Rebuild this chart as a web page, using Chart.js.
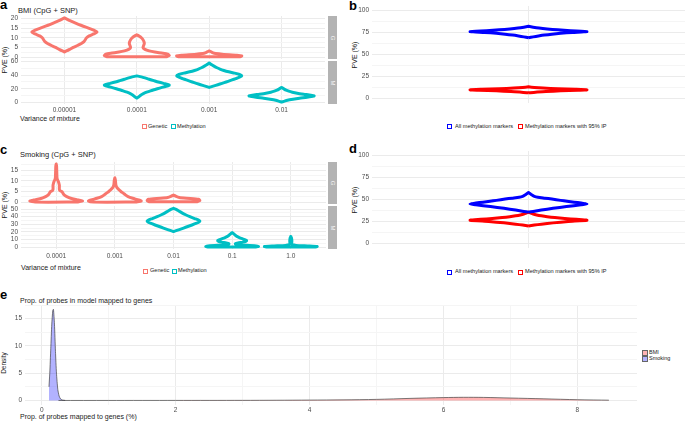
<!DOCTYPE html>
<html>
<head>
<meta charset="utf-8">
<script src="https://cdn.jsdelivr.net/npm/chart.js@4.4.0/dist/chart.umd.min.js"></script>
<style>
  body { margin: 0; width: 685px; height: 424px; position: relative; overflow: hidden; background: #fff;
         font-family: "Liberation Sans", Arial, sans-serif; }
  .t { position: absolute; white-space: nowrap; line-height: 1; color: #1a1a1a; transform: translateY(-50%); }
  .letter { position: absolute; font-weight: bold; font-size: 13px; line-height: 1; color: #000; }
  .rot { position: absolute; white-space: nowrap; line-height: 1; font-size: 7px; color: #1a1a1a;
         transform: translate(-50%, -50%) rotate(-90deg); }
  .strip { position: absolute; background: #b3b3b3; }
  .strip span { position: absolute; left: 50%; top: 50%; font-size: 6px; line-height: 1; color: #f2f2f2;
                transform: translate(-50%, -50%) rotate(90deg); }
  .key { position: absolute; width: 3px; height: 3px; border: 1px solid; background: #fff; }
  .lg { font-size: 5.6px; }
  canvas { position: absolute; }
</style>
</head>
<body>

<div class="letter" style="left:0px;top:-2px">a</div>
<div class="letter" style="left:349px;top:-1px">b</div>
<div class="letter" style="left:0px;top:143px">c</div>
<div class="letter" style="left:349px;top:142px">d</div>
<div class="letter" style="left:0px;top:288px">e</div>

<div class="t" style="left:18px;top:11px;font-size:7.5px">BMI (CpG + SNP)</div>
<div class="t" style="left:20px;top:155px;font-size:7.5px">Smoking (CpG + SNP)</div>
<div class="t" style="left:20px;top:300px;font-size:7px">Prop. of probes in model mapped to genes</div>

<div class="t" style="left:20px;top:118px;font-size:7px">Variance of mixture</div>
<div class="t" style="left:21px;top:267px;font-size:7px">Variance of mixture</div>
<div class="t" style="left:20px;top:416px;font-size:7px">Prop. of probes mapped to genes (%)</div>

<div class="rot" style="left:4px;top:60px">PVE (%)</div>
<div class="rot" style="left:4px;top:205px">PVE (%)</div>
<div class="rot" style="left:354px;top:55px">PVE (%)</div>
<div class="rot" style="left:354px;top:200px">PVE (%)</div>
<div class="rot" style="left:4px;top:363px;font-size:6.5px">Density</div>

<div class="strip" style="left:328px;top:16px;width:9px;height:43px"><span>G</span></div>
<div class="strip" style="left:328px;top:61px;width:9px;height:43px"><span>M</span></div>
<div class="strip" style="left:328px;top:162px;width:9px;height:42px"><span>G</span></div>
<div class="strip" style="left:328px;top:206px;width:9px;height:43px"><span>M</span></div>

<div class="key" style="left:142px;top:124px;border-color:#F8766D"></div>
<div class="t lg" style="left:148px;top:126.5px">Genetic</div>
<div class="key" style="left:171px;top:124px;border-color:#00BFC4"></div>
<div class="t lg" style="left:177px;top:126.5px">Methylation</div>

<div class="key" style="left:143px;top:269px;border-color:#F8766D"></div>
<div class="t lg" style="left:150px;top:271px">Genetic</div>
<div class="key" style="left:172px;top:269px;border-color:#00BFC4"></div>
<div class="t lg" style="left:178px;top:271px">Methylation</div>

<div class="key" style="left:447px;top:124px;border-color:#0000FF"></div>
<div class="t lg" style="left:455px;top:126.5px">All methylation markers</div>
<div class="key" style="left:518px;top:124px;border-color:#FF0000"></div>
<div class="t lg" style="left:525px;top:126.5px">Methylation markers with 95% IP</div>

<div class="key" style="left:447px;top:269.5px;border-color:#0000FF"></div>
<div class="t lg" style="left:455px;top:271.5px">All methylation markers</div>
<div class="key" style="left:518px;top:269.5px;border-color:#FF0000"></div>
<div class="t lg" style="left:525px;top:271.5px">Methylation markers with 95% IP</div>

<div class="key" style="left:642px;top:350px;width:4px;height:4px;border:0.5px solid #666;background:rgba(255,0,0,0.3)"></div>
<div class="t" style="left:649px;top:352.5px;font-size:5.5px">BMI</div>
<div class="key" style="left:642px;top:355.5px;width:4px;height:4px;border:0.5px solid #666;background:rgba(0,0,255,0.3)"></div>
<div class="t" style="left:649px;top:358.5px;font-size:5.5px">Smoking</div>

<script>
// ---- data ----
const bmiMixture = ['0.00001', '0.0001', '0.001', '0.01'];
const smokingMixture = ['0.0001', '0.001', '0.01', '0.1', '1.0'];

// violin outlines: [PVE (%), relative half width], one per mixture variance (null = none)
const bmiGenetic = [
  [[2.7,0],[3.3,0.08],[4,0.16],[5,0.27],[6,0.4],[7,0.52],[8,0.6],[9,0.64],[10,0.68],[11,0.76],[12,0.9],[13,1],[14,0.9],[15,0.74],[16,0.58],[17,0.43],[18,0.29],[19,0.15],[19.8,0.06],[20.3,0]],
  [[0.2,0.92],[0.8,1],[1.5,0.95],[2,0.8],[2.6,0.55],[3.2,0.38],[4,0.25],[5,0.19],[6,0.21],[7,0.23],[8,0.22],[9,0.19],[10,0.14],[10.8,0.08],[11.6,0]],
  [[0.2,0.95],[0.6,1],[1,0.85],[1.4,0.45],[1.8,0.2],[2.3,0.1],[2.8,0.05],[3.2,0]]
];
const bmiMethylation = [
  null,
  [[6.5,0],[7.5,0.04],[9,0.08],[11,0.13],[13,0.2],[15,0.3],[17,0.42],[19,0.56],[21,0.7],[23,0.85],[24.5,0.96],[25.5,1],[26.5,0.95],[28,0.82],[30,0.66],[32,0.52],[34,0.38],[36,0.25],[37.5,0.14],[39,0]],
  [[22,0],[23.5,0.1],[25,0.2],[27,0.33],[29,0.46],[31,0.58],[33,0.7],[35,0.82],[37,0.93],[39,1],[41,0.93],[43,0.78],[45,0.6],[47,0.45],[49,0.33],[51,0.24],[53,0.16],[55,0.09],[56.5,0.04],[58,0]],
  [[0.5,0],[1.5,0.07],[3,0.18],[4.5,0.35],[6,0.55],[7.5,0.78],[9,0.96],[9.5,1],[10.5,0.9],[12,0.68],[13.5,0.48],[15,0.33],[16.5,0.22],[18,0.14],[19.5,0.08],[21,0.03],[22,0]]
];
const smokingGenetic = [
  [[0,0.8],[0.5,1],[1,0.85],[1.8,0.55],[2.6,0.4],[3.4,0.3],[4.1,0.26],[4.9,0.22],[5.4,0.14],[6,0.12],[7,0.12],[8,0.12],[9,0.1],[9.8,0.08],[10.5,0.05],[11.5,0.03],[13,0.025],[15,0.02],[17,0.015],[18,0]],
  [[0,0.8],[0.5,1],[1,0.9],[1.8,0.68],[2.6,0.5],[3.4,0.4],[4.1,0.33],[5,0.23],[5.7,0.17],[6.5,0.1],[7.3,0.06],[8,0.04],[9,0.03],[10,0.025],[11,0.01],[11.4,0]],
  [[0.2,0.9],[0.7,1],[1.3,0.95],[1.8,0.5],[2.2,0.22],[2.7,0.1],[3.3,0]]
];
const smokingMethylation = [
  null, null,
  [[20.4,0],[21.5,0.1],[23,0.22],[25,0.38],[27,0.54],[29,0.7],[31,0.85],[33,0.97],[34,1],[35.5,0.95],[37.5,0.8],[40,0.62],[42.5,0.46],[45,0.32],[47.5,0.2],[49.5,0.1],[51,0]],
  [[0,0.9],[0.8,1],[1.8,0.85],[2.8,0.3],[3.6,0.14],[4.5,0.12],[5.5,0.22],[6.5,0.4],[7.5,0.52],[8.5,0.55],[9.5,0.5],[11,0.38],[12.5,0.27],[14,0.18],[15.5,0.12],[17,0.07],[18.2,0.03],[19.1,0]],
  [[0,0.9],[0.7,1],[1.4,0.7],[2.2,0.2],[3,0.07],[4,0.04],[6,0.035],[8,0.04],[10,0.035],[12,0.025],[13.9,0]]
];

// panels b and d: a single violin per marker set
const bmiAllMarkers = [[69,0],[70,0.08],[71,0.17],[72,0.27],[73,0.4],[74,0.55],[75,0.75],[76,1],[77,0.72],[78,0.5],[79,0.32],[80,0.18],[81,0.08],[82,0]];
const bmiIpMarkers = [[6.5,0],[7.3,0.12],[8,0.3],[8.8,0.55],[9.5,0.85],[9.9,1],[10.5,0.8],[11.2,0.5],[12,0.25],[12.7,0.1],[13.3,0]];
const smokingAllMarkers = [[35.7,0],[36.5,0.08],[38,0.22],[40,0.42],[42,0.65],[44,0.9],[45,1],[46,0.9],[47,0.78],[48,0.66],[49,0.55],[50.5,0.4],[51.5,0.28],[52.5,0.16],[53.5,0.1],[55,0.06],[56.5,0.03],[58,0]];
const smokingIpMarkers = [[20,0],[21,0.1],[22,0.22],[23.5,0.42],[25,0.68],[26.5,1],[27.5,0.82],[28.5,0.62],[29.5,0.45],[30.5,0.32],[31.5,0.22],[32.5,0.14],[33.5,0.08],[34.5,0.04],[35.7,0]];

// panel e densities
const smokingGeneX = [0.108,0.12,0.135,0.15,0.165,0.175,0.19,0.205,0.22,0.24,0.26,0.28,0.31,0.35];
const smokingGeneDensity = [2.5,5,9.5,14,16.5,16.7,14,9,5,2,0.8,0.3,0.08,0.01];
const bmiGeneX = [0.25,1,2,3,3.5,4,4.5,5,5.5,6,6.3,6.6,7,7.5,8,8.47];
const bmiGeneDensity = [0,0.005,0.01,0.02,0.04,0.07,0.11,0.2,0.38,0.53,0.58,0.56,0.45,0.3,0.14,0.05];

// ---- drawing ----
const FONT = '"Liberation Sans", Arial, sans-serif';
const AX = 34, PT = 8, PR = 4;
const RED = '#F8766D', CYAN = '#00BFC4';

function violin(center, profile, half) {
  const right = profile.map(([y, w]) => ({x: center + w * half, y: y}));
  const left = profile.slice().reverse().map(([y, w]) => ({x: center - w * half, y: y}));
  return right.concat(left, [right[0]]);
}

function violinSet(profiles, color, half) {
  const out = [];
  profiles.forEach((prof, i) => {
    if (!prof) return;
    out.push({
      data: violin(i, prof, half), showLine: true, fill: false,
      borderColor: color, borderWidth: 3, pointRadius: 0, tension: 0.2,
      borderJoinStyle: 'round', borderCapStyle: 'round'
    });
  });
  return out;
}

function gridOpts(isMajor) {
  return {
    drawTicks: false,
    color: c => (c.tick && !isMajor(c.tick.value)) ? '#F5F5F5' : '#EBEBEB',
    lineWidth: 1
  };
}

function plotPanel(p) {
  const cv = document.createElement('canvas');
  const W = Math.round(p.w) + AX + PR, H = Math.round(p.h) + PT + p.xh;
  cv.width = W; cv.height = H;
  cv.style.left = (Math.round(p.x) - AX) + 'px';
  cv.style.top = (Math.round(p.y) - PT) + 'px';
  document.body.appendChild(cv);
  new Chart(cv, {
    type: 'scatter',
    data: {datasets: p.datasets},
    options: {
      responsive: false, animation: false, devicePixelRatio: 1,
      layout: {padding: {top: PT, right: PR, left: 0, bottom: 0}},
      plugins: {legend: {display: false}, tooltip: {enabled: false}},
      scales: {
        x: {
          type: 'linear', min: p.xmin, max: p.xmax,
          afterBuildTicks: s => { s.ticks = p.xticks.map(v => ({value: v})); },
          afterFit: s => { s.height = p.xh; s.paddingLeft = 0; s.paddingRight = 0; },
          grid: gridOpts(p.xmajor),
          border: {display: false},
          ticks: {display: p.xh > 0, autoSkip: false, maxRotation: 0, padding: p.xpad || 2,
                  font: {family: FONT, size: 6.5}, color: '#4D4D4D', callback: p.xlabel}
        },
        y: {
          type: 'linear', min: p.ymin, max: p.ymax,
          afterBuildTicks: s => { s.ticks = p.yticks.map(v => ({value: v})); },
          afterFit: s => { s.width = AX; s.paddingTop = 0; s.paddingBottom = 0; },
          grid: gridOpts(p.ymajor),
          border: {display: false},
          ticks: {autoSkip: false, padding: 3, font: {family: FONT, size: 6.5}, color: '#4D4D4D',
                  callback: v => p.ymajor(v) ? String(v) : ''}
        }
      }
    }
  });
}

const every = step => v => Math.abs(v / step - Math.round(v / step)) < 1e-6;
const steps = (a, b, s) => { const r = []; for (let v = a; v <= b + 1e-9; v += s) r.push(+v.toFixed(3)); return r; };
const all = () => true;

// panel a
plotPanel({x: 21, y: 16, w: 304, h: 43, xh: 0,
  xmin: -0.6, xmax: 3.6, xticks: [0, 1, 2, 3], xmajor: all,
  ymin: -1.0, ymax: 21.3, yticks: steps(0, 20, 2.5), ymajor: every(5),
  datasets: violinSet(bmiGenetic, RED, 0.45)});
plotPanel({x: 21, y: 61, w: 304, h: 43, xh: 12,
  xmin: -0.6, xmax: 3.6, xticks: [0, 1, 2, 3], xmajor: all, xlabel: v => bmiMixture[v],
  ymin: -2.4, ymax: 60.9, yticks: steps(0, 60, 10), ymajor: every(20),
  datasets: violinSet(bmiMethylation, CYAN, 0.45)});

// panel c
plotPanel({x: 21, y: 162, w: 305, h: 42, xh: 0,
  xmin: -0.6, xmax: 4.6, xticks: [0, 1, 2, 3, 4], xmajor: all,
  ymin: -0.9, ymax: 18.9, yticks: steps(0, 17.5, 2.5), ymajor: every(5),
  datasets: violinSet(smokingGenetic, RED, 0.45)});
plotPanel({x: 21, y: 206, w: 305, h: 43, xh: 14, xpad: 3,
  xmin: -0.6, xmax: 4.6, xticks: [0, 1, 2, 3, 4], xmajor: all, xlabel: v => smokingMixture[v],
  ymin: -2.57, ymax: 54, yticks: steps(0, 50, 5), ymajor: every(10),
  datasets: violinSet(smokingMethylation, CYAN, 0.45)});

// panels b and d
function markerSets(allProf, ipProf) {
  return [
    {data: violin(1, allProf, 0.224), showLine: true, fill: false, borderColor: '#0000FF', borderWidth: 3,
     pointRadius: 0, tension: 0.2, borderJoinStyle: 'round'},
    {data: violin(1, ipProf, 0.224), showLine: true, fill: false, borderColor: '#FF0000', borderWidth: 3,
     pointRadius: 0, tension: 0.2, borderJoinStyle: 'round'}
  ];
}
plotPanel({x: 372, y: 6, w: 313, h: 97, xh: 0,
  xmin: 0.4, xmax: 1.6, xticks: [1], xmajor: all,
  ymin: -5, ymax: 105, yticks: steps(0, 100, 12.5), ymajor: every(25),
  datasets: markerSets(bmiAllMarkers, bmiIpMarkers)});
plotPanel({x: 372, y: 151, w: 313, h: 97, xh: 0,
  xmin: 0.4, xmax: 1.6, xticks: [1], xmajor: all,
  ymin: -5, ymax: 105, yticks: steps(0, 100, 12.5), ymajor: every(25),
  datasets: markerSets(smokingAllMarkers, smokingIpMarkers)});

// panel e
const toPts = (xs, ys) => xs.map((x, i) => ({x: x, y: ys[i]}));
plotPanel({x: 25, y: 305, w: 612, h: 100, xh: 12, xpad: 1,
  xmin: -0.25, xmax: 8.89, xticks: steps(0, 8, 1), xmajor: every(2), xlabel: v => (v % 2 === 0 ? String(v) : ''),
  ymin: -0.83, ymax: 17.5, yticks: steps(0, 17.5, 2.5), ymajor: every(5),
  datasets: [
    {data: toPts(bmiGeneX, bmiGeneDensity), showLine: true, fill: 'origin', backgroundColor: 'rgba(255,0,0,0.3)',
     borderColor: 'rgba(60,60,60,0.85)', borderWidth: 0.8, pointRadius: 0, tension: 0.3},
    {data: toPts(smokingGeneX, smokingGeneDensity), showLine: true, fill: 'origin', backgroundColor: 'rgba(0,0,255,0.3)',
     borderColor: 'rgba(60,60,60,0.85)', borderWidth: 0.8, pointRadius: 0, tension: 0.2}
  ]});
</script>
</body>
</html>
